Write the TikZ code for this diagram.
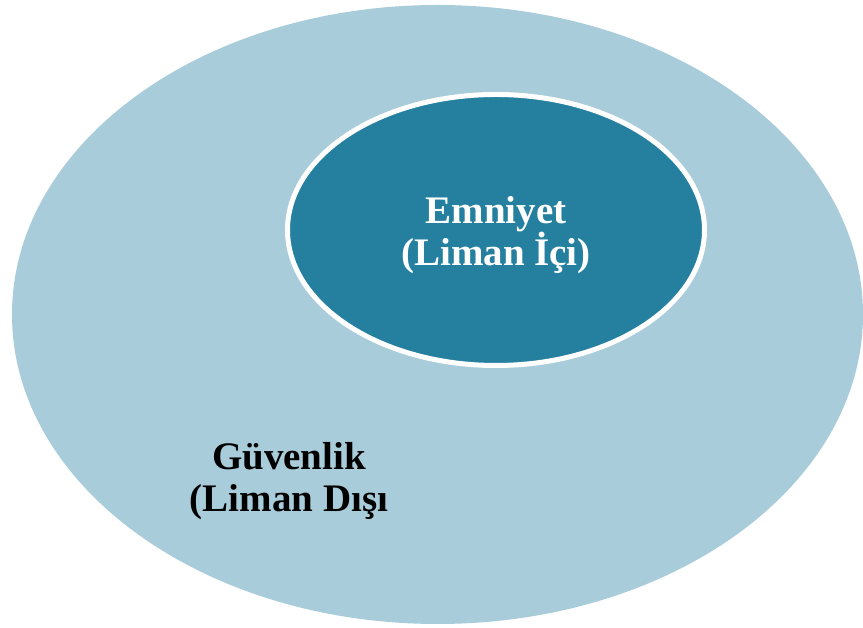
\documentclass[tikz,border=0pt]{standalone}
\usepackage{fontspec}
\setmainfont{Liberation Serif}
\usetikzlibrary{shapes.geometric}
\definecolor{outerblue}{HTML}{A8CCDA}
\definecolor{innerblue}{HTML}{2580A0}
\begin{document}
\begin{tikzpicture}[x=1pt,y=1pt,
  outerell/.style={ellipse, fill=outerblue, minimum width=851pt, minimum height=619pt, inner sep=0pt},
  innerell/.style={ellipse, fill=innerblue, draw=white, line width=5pt, minimum width=417pt, minimum height=271pt, inner sep=0pt},
  lbl/.style={align=center, font=\fontsize{39}{42}\selectfont\bfseries, inner sep=0pt}]
\useasboundingbox (0,0) rectangle (863,628);
\node[outerell] (guv) at (437.5,313.5) {};
\node[innerell] (emn) at (496,398) {};
\node[lbl, text=white] (emntext) at (496,393) {Emniyet\\(Liman İçi)};
\node[lbl, text=black] (guvtext) at (289,146.5) {Güvenlik\\(Liman Dışı};
\end{tikzpicture}
\end{document}
